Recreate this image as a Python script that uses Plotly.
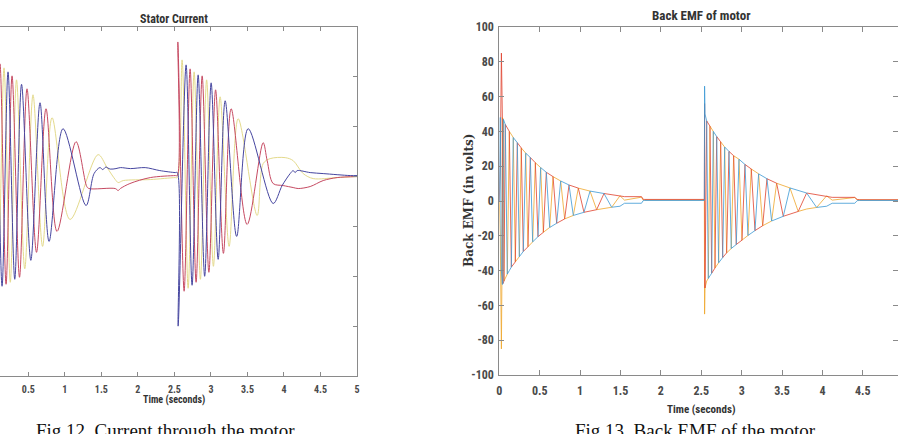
import plotly.graph_objects as go

W, H = 898, 434

# ---------------- Stator current (left panel) ----------------
cur_red_t = [0.030, 0.112, 0.195, 0.277, 0.379, 0.482, 0.612, 0.742, 0.893, 1.153, 1.30, 1.33, 1.69, 1.73, 1.76, 1.89, 2.17, 2.51, 2.540,
             2.547, 2.633, 2.715, 2.797, 2.880, 2.972, 3.064, 3.171, 3.277, 3.496, 3.715, 3.770, 3.852, 3.989, 4.126, 4.195, 4.359, 4.537, 4.729, 5.0]
cur_red_v = [-23.0, 22.6, -21.6, 20.2, -20.2, 17.6, -15.2, 13.6, -11.0, 7.0, -2.0, -2.4, -2.4, -2.8, -2.4, -1.4, -0.2, 0.2, 0.2,
             27.0, -23.0, 21.6, -21.2, 20.2, -19.2, 17.4, -15.4, 13.6, -9.6, 6.8, 3.2, -1.4, -1.8, -2.2, -2.4, -2.0, -0.8, -0.2, 0.0]

cur_blue_t = [0.0, 0.057, 0.140, 0.222, 0.314, 0.407, 0.534, 0.660, 0.784, 0.975, 1.290, 1.40, 1.48, 1.52, 1.56, 1.62, 1.70, 1.76, 1.90, 2.10, 2.30, 2.51, 2.540,
              2.551, 2.660, 2.742, 2.825, 2.914, 3.003, 3.099, 3.195, 3.352, 3.510, 3.852, 3.975, 4.085, 4.126, 4.153, 4.181, 4.359, 4.537, 4.907, 5.0]
cur_blue_v = [-20.0, 23.3, -22.0, 21.0, -20.6, 18.5, -16.8, 14.8, -13.0, 9.6, -5.8, 0.6, 1.8, 1.4, 1.9, 1.5, 1.6, 1.8, 1.6, 1.8, 1.2, 0.8, 0.8,
              -30.0, 22.4, -21.8, 20.4, -20.0, 18.8, -16.6, 15.2, -12.0, 9.6, -5.4, -1.8, 0.6, 1.2, 0.8, 1.2, 0.8, 0.6, 0.2, 0.2]

cur_yel_t = [0.002, 0.085, 0.167, 0.253, 0.338, 0.451, 0.564, 0.695, 0.825, 1.071, 1.455, 1.578, 1.69, 1.73, 1.80, 2.17, 2.51, 2.540,
             2.605, 2.688, 2.770, 2.856, 2.941, 3.034, 3.126, 3.249, 3.373, 3.633, 3.715, 3.811, 4.017, 4.126, 4.263, 4.400, 4.729, 5.0]
cur_yel_v = [24.0, -22.5, 21.8, -21.2, 19.4, -18.5, 16.4, -14.0, 11.8, -8.6, 4.4, 1.8, -0.6, -1.2, -0.8, -0.6, -0.2, -0.2,
             23.4, -22.4, 21.0, -20.6, 19.4, -18.0, 16.0, -14.0, 11.6, -7.8, 2.6, 3.6, 3.8, 3.2, 0.6, -0.4, -0.2, 0.0]

# ---------------- Back EMF (right panel) ----------------
# commutation vertices (every 60 electrical degrees) and envelope magnitude
emf1_t = [0.032, 0.038, 0.044, 0.050, 0.058, 0.074, 0.099, 0.124, 0.149, 0.173, 0.198, 0.223, 0.248, 0.272, 0.297, 0.327,
          0.355, 0.384, 0.413, 0.446, 0.479, 0.512, 0.545, 0.582, 0.624, 0.665, 0.710, 0.760, 0.809, 0.863, 0.916, 0.978,
          1.048, 1.123, 1.205, 1.296, 1.391, 1.494]
emf1_env = [48, 48, 47.5, 47, 46, 44, 42, 40, 38, 36.5, 35, 33.5, 32, 30.5, 29, 27.5,
            26.3, 25, 23.5, 22, 20.5, 19.2, 18, 16.5, 15.2, 14, 12.8, 11.5, 10.3, 9.2, 8.3, 7.4,
            6.5, 5.7, 5, 4.3, 3.6, 3.0]
emf2_t = [2.546, 2.567, 2.587, 2.608, 2.629, 2.649, 2.670, 2.691, 2.715, 2.740, 2.765, 2.790, 2.814, 2.843, 2.871, 2.901,
          2.933, 2.967, 3.004, 3.041, 3.078, 3.119, 3.165, 3.210, 3.260, 3.313, 3.371, 3.433, 3.515, 3.598, 3.700, 3.804,
          3.928, 4.052]
emf2_env = [50, 46, 44.5, 43, 41.5, 40, 38.5, 37, 35.5, 34, 32.5, 31, 29.8, 28.5, 27.3, 26,
            25, 24, 22.5, 21, 19.8, 18.4, 17, 15.6, 14.2, 12.8, 11.5, 10.2, 8.8, 7.5, 6, 4.6,
            3.7, 3.0]

# start-up spikes (time, value) per phase, and low-level tails after the oscillation
head1_t = [0.0, 0.012, 0.026]
head1_red = [0.0, 20.0, 85.0]
head1_yel = [0.0, -20.0, -85.0]
head1_blue = [0.0, 48.0, -40.0]
tail1_t = [1.55, 1.76, 1.78, 1.80, 2.538]
tail1_red = [2.5, 2.5, 1.0, 0.9, 0.9]
tail1_yel = [0.5, 2.2, 0.5, 0.6, 0.6]
tail1_blue = [-1.3, -1.3, 0.2, 0.3, 0.3]
head2_t = [2.541]
head2_red = [56.0]
head2_yel = [-65.0]
head2_blue = [66.0]
tail2_t = [4.12, 4.40, 4.43, 4.46, 4.94]
tail2_red = [2.1, 2.1, 0.9, 0.7, 0.7]
tail2_yel = [0.5, 2.0, 0.6, 0.6, 0.6]
tail2_blue = [-1.3, -1.3, 0.2, 0.3, 0.3]


def trapezoid(env, offset):
    out = []
    for i, e in enumerate(env):
        p = (i - offset) % 6
        out.append(e if p in (1, 2, 3) else -e)
    return out


# segment 1: red=C(offset 4), yellow=A(0), blue=B(2); segment 2: red=A, yellow=B, blue=C
emf_red_t = head1_t + emf1_t + tail1_t + head2_t + emf2_t + tail2_t
emf_red_v = head1_red + trapezoid(emf1_env, 4) + tail1_red + head2_red + trapezoid(emf2_env, 0) + tail2_red
emf_yel_t = head1_t + emf1_t + tail1_t + head2_t + emf2_t + tail2_t
emf_yel_v = head1_yel + trapezoid(emf1_env, 0) + tail1_yel + head2_yel + trapezoid(emf2_env, 2) + tail2_yel
emf_blue_t = head1_t + emf1_t + tail1_t + head2_t + emf2_t + tail2_t
emf_blue_v = head1_blue + trapezoid(emf1_env, 2) + tail1_blue + head2_blue + trapezoid(emf2_env, 4) + tail2_blue

x_ticks = [0, 0.5, 1, 1.5, 2, 2.5, 3, 3.5, 4, 4.5, 5]
x_ticklabels = ["0", "0.5", "1", "1.5", "2", "2.5", "3", "3.5", "4", "4.5", "5"]
emf_ticks = [-100, -80, -60, -40, -20, 0, 20, 40, 60, 80, 100]
emf_ticklabels = ["-100", "-80", "-60", "-40", "-20", "0", "20", "40", "60", "80", "100"]
cur_ticks = [-40, -30, -20, -10, 0, 10, 20, 30]

C_BLUE_I, C_RED_I, C_YEL_I = "#4646a0", "#c64a62", "#e4da8c"
C_BLUE_E, C_RED_E, C_YEL_E = "#3a98d4", "#e0402c", "#efa62a"

NARROW = "Roboto Condensed, Liberation Sans Narrow, Liberation Serif, serif"
AX = "#8a8a8a"
TK = "#4a4a4a"

fig = go.Figure()
for t, v, c in [(cur_yel_t, cur_yel_v, C_YEL_I), (cur_red_t, cur_red_v, C_RED_I), (cur_blue_t, cur_blue_v, C_BLUE_I)]:
    fig.add_trace(go.Scatter(x=t, y=v, mode="lines", line=dict(color=c, width=1.0, shape="spline", smoothing=0.9),
                             xaxis="x", yaxis="y", showlegend=False, hoverinfo="skip"))
for t, v, c in [(emf_yel_t, emf_yel_v, C_YEL_E), (emf_red_t, emf_red_v, C_RED_E), (emf_blue_t, emf_blue_v, C_BLUE_E)]:
    fig.add_trace(go.Scatter(x=t, y=v, mode="lines", line=dict(color=c, width=0.8),
                             xaxis="x2", yaxis="y2", showlegend=False, hoverinfo="skip"))

fig.update_layout(
    width=W, height=H, margin=dict(l=0, r=0, t=0, b=0, pad=0, autoexpand=False),
    paper_bgcolor="white", plot_bgcolor="white",
    xaxis=dict(domain=[0, 357 / W], range=[0.112, 5.0], tickvals=x_ticks[1:], ticktext=x_ticklabels[1:],
               showline=True, linecolor=AX, linewidth=1, mirror="ticks", ticks="inside", ticklen=4, tickcolor=AX,
               showgrid=False, zeroline=False, ticklabelstandoff=4, automargin=False,
               tickfont=dict(family=NARROW, size=10, color=TK, weight="bold")),
    yaxis=dict(domain=[1 - 376 / H, 1 - 27 / H], range=[-40, 30], tickvals=cur_ticks, side="right",
               showline=True, linecolor=AX, linewidth=1, ticks="inside", ticklen=4, tickcolor=AX, automargin=False,
               showticklabels=False, showgrid=False, zeroline=False),
    xaxis2=dict(domain=[499.3 / W, 1.0], range=[0, 4.935], tickvals=x_ticks, ticktext=x_ticklabels, anchor="y2",
                showline=True, linecolor=AX, linewidth=1, mirror="ticks", ticks="inside", ticklen=5, tickcolor=AX,
                showgrid=False, zeroline=False, ticklabelstandoff=5, automargin=False,
                tickfont=dict(family=NARROW, size=12, color=TK, weight="bold")),
    yaxis2=dict(domain=[1 - 375 / H, 1 - 27 / H], range=[-100, 100], tickvals=emf_ticks, ticktext=emf_ticklabels,
                anchor="x2", automargin=False,
                showline=True, linecolor=AX, linewidth=1, mirror="ticks", ticks="inside", ticklen=5, tickcolor=AX,
                showgrid=False, zeroline=False, ticklabelstandoff=2,
                tickfont=dict(family=NARROW, size=12, color=TK, weight="bold")),
)

def ann(text, px, py, size, family=NARROW, color="#333333", weight="bold", angle=0, yanchor="middle"):
    fig.add_annotation(text=text, x=px / W, y=1 - py / H, xref="paper", yref="paper", showarrow=False,
                       xanchor="center", yanchor=yanchor, textangle=angle,
                       font=dict(family=family, size=size, color=color, weight=weight))

ann("Stator Current", 174, 19, 12)
ann("Back EMF of motor", 701, 16, 13)
ann("Time (seconds)", 174, 400, 10)
ann("Time (seconds)", 701, 409, 11)
ann("Back EMF (in volts)", 469, 200, 12, family="DejaVu Serif, Liberation Serif, serif", angle=-90)
ann("Fig 12. Current through the motor", 165, 418, 19, family="Liberation Serif, serif", color="#111111",
    weight="normal", yanchor="top")
ann("Fig 13. Back EMF of the motor", 695, 418, 19, family="Liberation Serif, serif", color="#111111",
    weight="normal", yanchor="top")

fig.write_html("out.html")
